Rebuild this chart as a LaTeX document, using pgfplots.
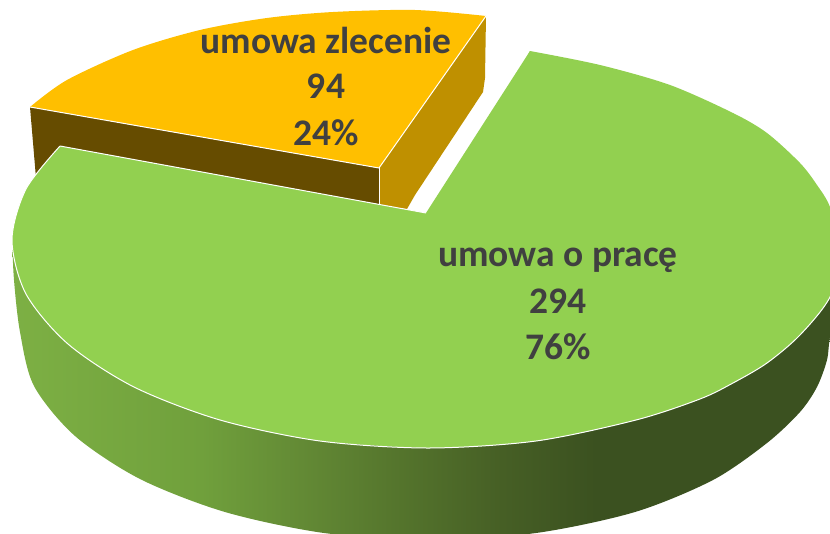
\documentclass[border=0pt]{standalone}
\usepackage{pgfplots}
\pgfplotsset{compat=1.18}
\usepackage{fontspec}
\setmainfont{Carlito}

\definecolor{green1}{HTML}{92D050}
\definecolor{yellow1}{HTML}{FFBF00}
\definecolor{yellowfront}{HTML}{664C00}
\definecolor{yellowright}{HTML}{BF9000}
\definecolor{labelgray}{HTML}{404040}
\definecolor{s1}{HTML}{7DB044}
\definecolor{s2}{HTML}{70A03C}
\definecolor{s3}{HTML}{638A35}
\definecolor{s4}{HTML}{52712B}
\definecolor{s5}{HTML}{465F25}
\definecolor{s6}{HTML}{3B5120}
\pgfdeclarehorizontalshading{sidegreen}{100bp}{color(0bp)=(s1); color(25bp)=(s1); color(36.4bp)=(s2); color(42.4bp)=(s3); color(49.3bp)=(s4); color(54.5bp)=(s5); color(60.2bp)=(s6); color(100bp)=(s6)}

\newcommand{\lbl}[3]{\node[anchor=base,text=labelgray,font=\fontsize{37.5}{44}\selectfont\bfseries] at (axis cs:#1,#2) {#3};}

\begin{document}
\begin{tikzpicture}
\useasboundingbox (0,0) rectangle (830pt,533pt);
\begin{axis}[
    at={(0,0)}, anchor=south west,
    scale only axis,
    width=830pt, height=533pt,
    xmin=0, xmax=830, ymin=0, ymax=533,
    y dir=reverse,
    hide axis,
]
% umowa zlecenie: front face, right face, top
\addplot[fill=yellowfront,draw=none] coordinates {(30,107) (379,168) (379,206) (36,178) (30,107)};
\addplot[fill=yellowright,draw=none] coordinates {(379,168) (486,16) (485,78) (483,92) (415,195) (407,209) (379,206) (379,168)};
\addplot[fill=yellow1,draw=none,smooth] coordinates {(30,107) (67,80) (133,50) (200,30) (267,18) (333,12) (415,10) (486,16)};
\addplot[fill=yellow1,draw=none] coordinates {(30,107) (379,168) (486,16) (350,20) (120,65) (30,107)};
\addplot[white,line width=1pt] coordinates {(30,107) (379,168) (486,16)};
\addplot[white,line width=1pt] coordinates {(379,168) (379,205)};

% umowa o prace: side wall
\addplot[shading=sidegreen,draw=none,smooth] coordinates {(12,237) (14,280) (20,332) (34,386) (75,436) (140,479) (225,512) (324,533) (430,540) (536,533) (635,512) (713,480) (767,443) (800,412) (817,387) (827,360) (830,337) (842,270)};

% umowa o prace: top, two arcs and the polygon between them
\addplot[fill=green1,draw=none,smooth] coordinates {(530,51) (600,65) (670,85) (733,113) (767,133) (800,163) (817,185) (830,207) (842,250) (830,297) (800,335) (767,363) (733,383) (700,399) (636,420) (536,441) (428,448) (320,441)};
\addplot[fill=green1,draw=none,smooth] coordinates {(428,448) (320,441) (220,420) (134,387) (68,344) (26,294) (12,240) (26,189) (60,146)};
\addplot[fill=green1,draw=none] coordinates {(530,51) (426,213) (60,146) (120,340) (415,440) (760,300) (530,51)};
\addplot[white,line width=1pt,smooth] coordinates {(842,250) (830,297) (800,335) (767,363) (733,383) (700,399) (636,420) (536,441) (428,448) (320,441) (220,420) (134,387) (68,344) (26,294) (12,240) (26,189) (60,146)};
\addplot[white,line width=1pt] coordinates {(60,146) (426,213)};

\lbl{326}{53}{umowa zlecenie}
\lbl{326}{98}{94}
\lbl{326}{145}{24\%}
\lbl{558}{266}{umowa o pracę}
\lbl{558}{313}{294}
\lbl{558}{359}{76\%}
\end{axis}
\end{tikzpicture}
\end{document}
